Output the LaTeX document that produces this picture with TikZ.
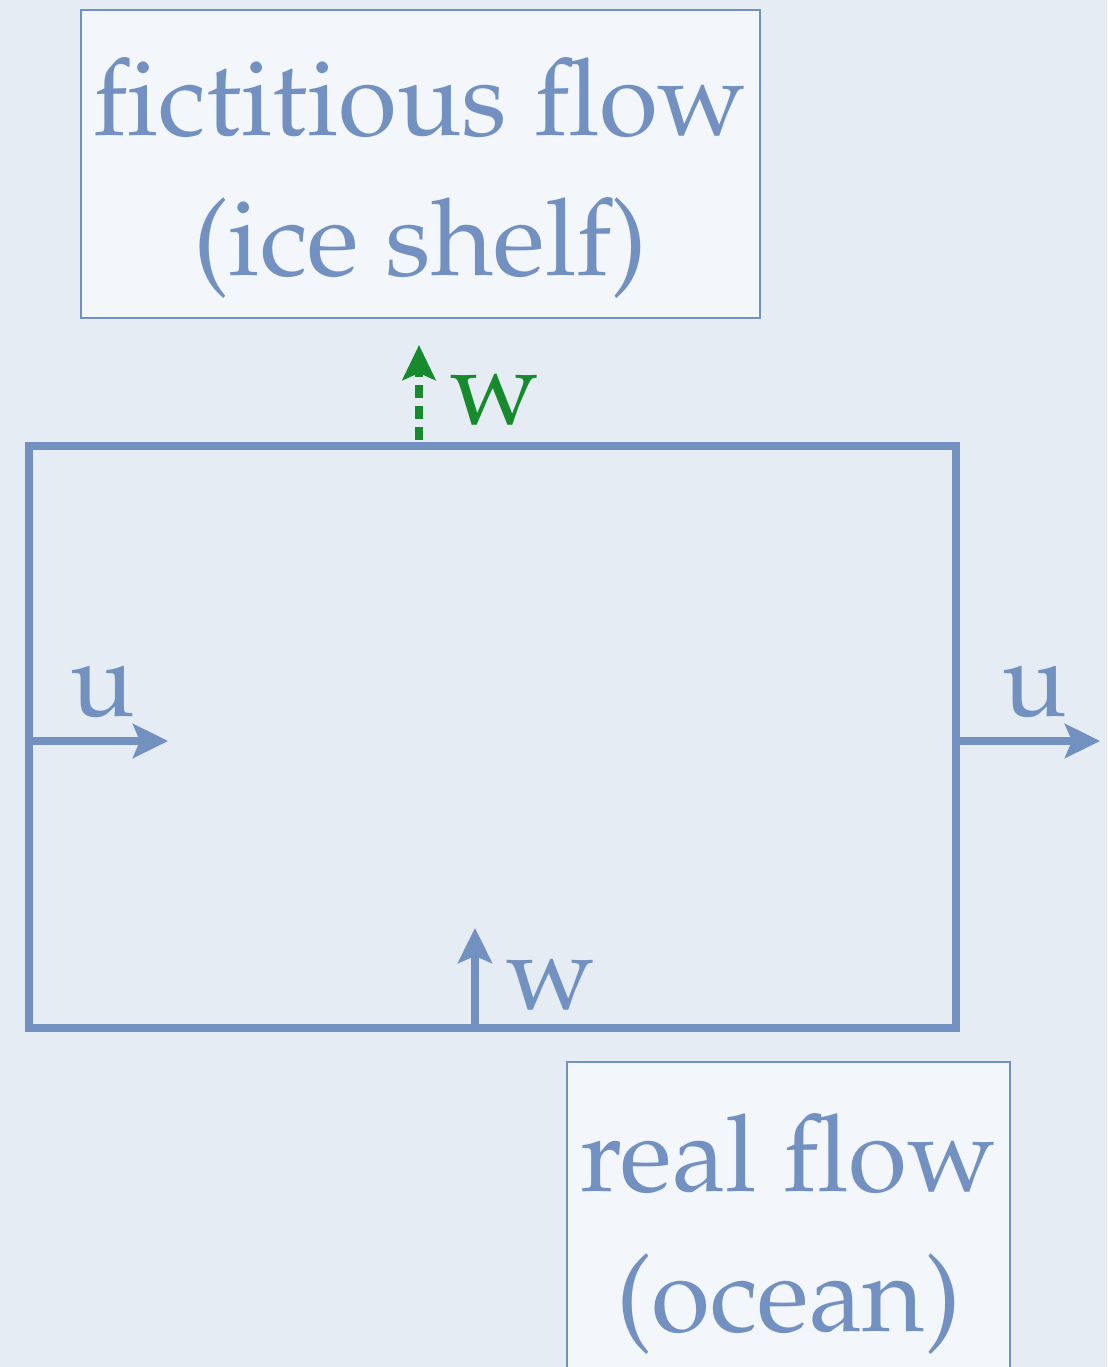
\documentclass[tikz,border=0pt]{standalone}
\usepackage[T1]{fontenc}
\usepackage{mathpazo}
\usepackage{tikz}
\usetikzlibrary{arrows.meta}

\definecolor{paper}{HTML}{E5ECF4}
\definecolor{boxfill}{HTML}{F3F6FA}
\definecolor{flowblue}{HTML}{7391C0}
\definecolor{flowgreen}{HTML}{168A2C}

\begin{document}
\begin{tikzpicture}[
  big/.style={font=\fontsize{30.5}{40}\selectfont},
  labelbox/.style={rectangle, draw=flowblue, fill=boxfill, line width=0.8pt, inner sep=0pt},
  boxtext/.style={text=flowblue, align=center, inner sep=0pt, big},
  cellbox/.style={rectangle, draw=flowblue, line width=2pt, inner sep=0pt},
  flux/.style={draw=flowblue, line width=2pt, -{Stealth[length=0.35cm,width=0.34cm,inset=0.07cm]}},
  fakeflux/.style={draw=flowgreen, line width=2pt, dash pattern=on 0.13cm off 0.08cm, -{Stealth[length=0.35cm,width=0.33cm,inset=0.07cm]}},
  lbl/.style={text=flowblue, anchor=base, inner sep=0pt, big}]
  \fill[paper] (0,0) rectangle (11.07,13.67);
  \useasboundingbox (0,0) rectangle (11.07,13.67);

  % label boxes
  \node[labelbox, minimum width=6.79cm, minimum height=3.08cm] (shelf) at (4.205,12.03) {};
  \node[boxtext] (shelftext) at ([yshift=-0.14cm]shelf.center) {fictitious flow\\(ice shelf)};
  \node[labelbox, minimum width=4.43cm, minimum height=3.4cm] (ocean) at (7.885,1.35) {};
  \node[boxtext] (oceantext) at ([yshift=-0.02cm]ocean.center) {real flow\\(ocean)};

  % grid cell
  \node[cellbox, minimum width=9.27cm, minimum height=5.82cm] (cell) at (4.925,6.30) {};

  \coordinate (uin) at (1.68,6.26);
  \coordinate (uout) at (11.0,6.26);
  \coordinate (wbot) at (4.75,3.39);
  \coordinate (wbottip) at (4.75,4.39);
  \coordinate (wtop) at (4.19,9.27);
  \coordinate (wtoptip) at (4.19,10.22);

  \draw[flux] (cell.west |- uin) -- (uin);
  \draw[flux] (cell.east |- uout) -- (uout);
  \draw[flux] (wbot) -- (wbottip);
  \draw[fakeflux] (wtop) -- (wtoptip);

  \node[lbl] (ulft) at (1.03,6.50) {u};
  \node[lbl] (urgt) at (10.35,6.50) {u};
  \node[lbl] (wlow) at (5.51,3.57) {w};
  \node[lbl, text=flowgreen] (wup) at (4.95,9.42) {w};
\end{tikzpicture}
\end{document}
